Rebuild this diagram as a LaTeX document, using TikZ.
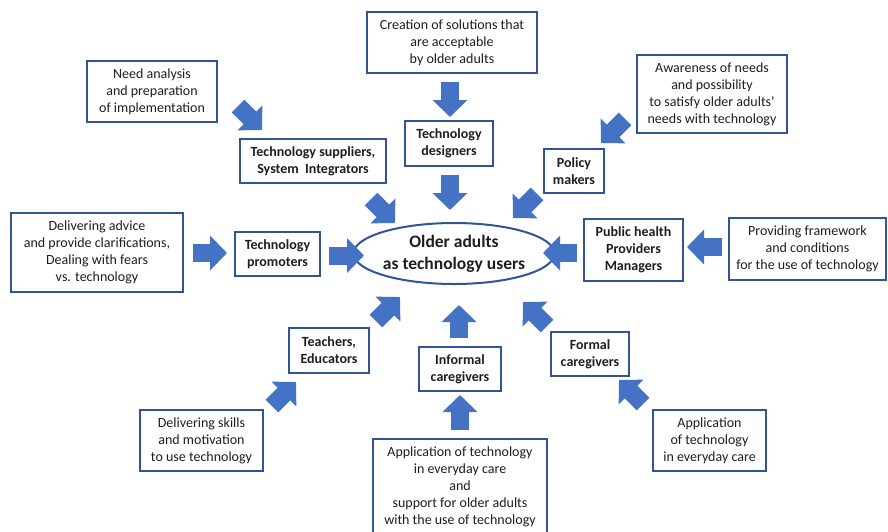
\documentclass[tikz,border=0pt]{standalone}
\usepackage{fontspec}
\setmainfont{Carlito}
\usepackage{tikz}
\usetikzlibrary{shapes,arrows.meta}

\definecolor{boxblue}{HTML}{2F5597}
\definecolor{arrowblue}{HTML}{4472C4}
\definecolor{txt}{HTML}{1E1E1E}

\begin{document}
\begin{tikzpicture}[x=1pt,y=-1pt,
		task/.style={draw=boxblue, line width=2pt, align=center, inner sep=2pt, text=txt, font=\fontsize{14}{17}\selectfont},
		actor/.style={task, font=\fontsize{14}{17}\selectfont\bfseries},
		block/.style={draw=arrowblue, line width=18pt, -{Triangle[length=17pt,width=34pt]}}]
		\clip (0,0) rectangle (888,531);
		\fill[white] (0,0) rectangle (888,531);
		% centre
		\node[draw=boxblue, line width=2pt, ellipse, minimum width=164pt, minimum height=61pt, inner sep=0pt, align=center, text=txt, font=\fontsize{17.5}{22}\selectfont\bfseries] (users) at (454,253.5) {Older adults\\as technology users};
		% actors
		\node[actor, minimum width=146pt, minimum height=44pt] (suppliers) at (313,161) {Technology suppliers,\\System~ Integrators};
		\node[actor, minimum width=88pt, minimum height=45pt] (designers) at (449,143.5) {Technology\\designers};
		\node[actor, minimum width=60pt, minimum height=44pt] (policy) at (574,171) {Policy\\makers};
		\node[actor, minimum width=85pt, minimum height=44pt] (promoters) at (277.5,254) {Technology\\promoters};
		\node[actor, minimum width=99pt, minimum height=62pt] (health) at (633.5,250) {Public health\\Providers\\Managers};
		\node[actor, minimum width=80pt, minimum height=45pt] (teachers) at (329,350.5) {Teachers,\\Educators};
		\node[actor, minimum width=82pt, minimum height=44pt] (informal) at (460,369) {Informal\\caregivers};
		\node[actor, minimum width=78pt, minimum height=44pt] (formal) at (590,354) {Formal\\caregivers};
		% tasks
		\node[task, minimum width=130pt, minimum height=61pt] (analysis) at (152,91.5) {Need analysis\\and preparation\\of implementation};
		\node[task, minimum width=170pt, minimum height=61pt] (solutions) at (452,42.5) {Creation of solutions that\\are acceptable\\by older adults};
		\node[task, minimum width=150pt, minimum height=78pt] (awareness) at (712,94) {Awareness of needs\\and possibility\\to satisfy older adults'\\needs with technology};
		\node[task, minimum width=172pt, minimum height=79pt] (advice) at (97,252.5) {Delivering advice\\and provide clarifications,\\Dealing with fears\\vs. technology};
		\node[task, minimum width=157pt, minimum height=62pt] (framework) at (807.5,249) {Providing framework\\and conditions\\for the use of technology};
		\node[task, minimum width=123pt, minimum height=61pt] (skills) at (201.5,440.5) {Delivering skills\\and motivation\\to use technology};
		\node[task, minimum width=174pt, minimum height=96pt] (support) at (460,487) {Application of technology\\in everyday care\\and\\support for older adults\\with the use of technology};
		\node[task, minimum width=113pt, minimum height=61pt] (care) at (709.5,440.5) {Application\\of technology\\in everyday care};
		% block arrows
		\draw[block] (238,106) -- (262,130);
		\draw[block] (371,199) -- (395,223);
		\draw[block] (450,82) -- (450,117);
		\draw[block] (450,175) -- (450,210);
		\draw[block] (625,119) -- (601,143);
		\draw[block] (537,194) -- (513,218);
		\draw[block] (193,253) -- (227,253);
		\draw[block] (329,255.5) -- (364,255.5);
		\draw[block] (722,247) -- (687,247);
		\draw[block] (577,253) -- (543,253);
		\draw[block] (272,406) -- (296,382);
		\draw[block] (376,321) -- (400,297);
		\draw[block] (460,430) -- (460,395);
		\draw[block] (459,338) -- (459,305);
		\draw[block] (643,404) -- (619,380);
		\draw[block] (547,326) -- (523,302);
\end{tikzpicture}
\end{document}
